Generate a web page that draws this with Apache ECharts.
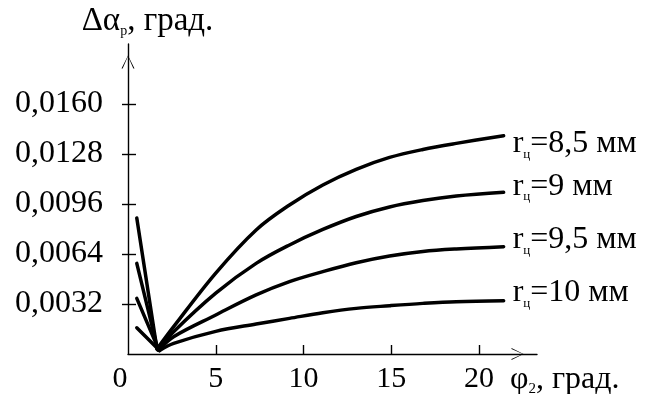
<!DOCTYPE html>
<html><head><meta charset="utf-8">
<script src="https://cdn.jsdelivr.net/npm/echarts@6/dist/echarts.min.js"></script>
<style>html,body{margin:0;padding:0;background:#fff}#c{width:659px;height:394px}</style>
</head><body><div id="c"></div>
<script>
// Data
const curveNames = ['8,5 мм', '9 мм', '9,5 мм', '10 мм'];
const phi85 = [0.5, 1.65, 2.6, 5.0, 7.3, 9.2, 11.1, 13.0, 14.9, 16.8, 18.7, 21.4];
const val85 = [0.0087, 0.00032, 0.00175, 0.00518, 0.00794, 0.00954, 0.01082, 0.01182, 0.01258, 0.01309, 0.01348, 0.01397];
const phi90 = [0.5, 1.7, 2.6, 5.0, 7.3, 9.2, 11.1, 13.0, 14.9, 16.8, 18.7, 21.4];
const val90 = [0.0058, 0.00026, 0.00143, 0.0039, 0.0058, 0.00698, 0.00797, 0.0088, 0.00941, 0.00982, 0.01011, 0.01035];
const phi95 = [0.5, 1.75, 2.6, 5.0, 7.3, 9.2, 11.1, 13.0, 14.9, 16.8, 18.7, 21.4];
const val95 = [0.00356, 0.00026, 0.00111, 0.0025, 0.00378, 0.00463, 0.00527, 0.00584, 0.00627, 0.00656, 0.00672, 0.00687];
const phi100 = [0.5, 1.8, 2.6, 5.0, 7.3, 9.2, 11.1, 13.0, 14.9, 16.8, 18.7, 21.4];
const val100 = [0.00168, 0.00022, 0.00068, 0.00145, 0.00192, 0.00228, 0.00264, 0.00292, 0.00309, 0.00324, 0.00335, 0.00341];
const xTickValues = [5, 10, 15, 20];
const xLabelValues = [0, 5, 10, 15, 20];
const yTickValues = [0.0032, 0.0064, 0.0096, 0.0128, 0.0160];

const FONT = '"Liberation Serif", "Times New Roman", serif';
const zip = (xs, ys) => xs.map((x, i) => [x, ys[i]]);
const curves = [zip(phi85, val85), zip(phi90, val90), zip(phi95, val95), zip(phi100, val100)];
const labelOffsets = [[0, 8], [0, -6], [0, -7], [0, -8]];
const arrowPath = 'path://M50,0 L0,100 L9,100 L50,6 L91,100 L100,100 Z';
const axisLineStyle = { color: '#000', width: 1.4 };
const lineStyle = { color: '#000', width: 3.5, cap: 'round', join: 'round' };

const series = [];
curves.forEach((d, i) => {
  // falling straight branch
  series.push({ type: 'line', data: d.slice(0, 2), showSymbol: false, smooth: false, lineStyle, silent: true });
  // rising smooth branch
  series.push({
    type: 'line', data: d.slice(1), showSymbol: false, smooth: 0.35, lineStyle,
    endLabel: {
      show: true, distance: 9, offset: labelOffsets[i],
      formatter: '{r|r}{s|ц}{r|=' + curveNames[i] + '}',
      rich: {
        r: { fontFamily: FONT, fontSize: 32, color: '#000', lineHeight: 34 },
        s: { fontFamily: FONT, fontSize: 13, color: '#000', verticalAlign: 'bottom', lineHeight: 30 }
      }
    }
  });
});

const chart = echarts.init(document.getElementById('c'));
chart.setOption({
  animation: false,
  backgroundColor: '#fff',
  grid: { left: 128, right: 122, top: 44, bottom: 40, containLabel: false, outerBoundsMode: 'none' },
  xAxis: {
    type: 'value', min: 0, max: 23.3, interval: 5,
    axisLine: { lineStyle: axisLineStyle, symbol: ['none', arrowPath], symbolSize: [12, 39], symbolOffset: [0, -19.5] },
    axisTick: { inside: true, length: 9, customValues: xTickValues, lineStyle: axisLineStyle },
    axisLabel: {
      customValues: xLabelValues, margin: 10, color: '#000', fontFamily: FONT, fontSize: 30,
      formatter: v => v === 0 ? '{z|0}' : String(v),
      rich: { z: { fontFamily: FONT, fontSize: 30, color: '#000', padding: [0, 16, 0, 0] } }
    },
    splitLine: { show: false },
    name: '{a|φ}{s|2}{a|, град.}', nameLocation: 'end', nameGap: -27,
    nameTextStyle: {
      verticalAlign: 'top', padding: [9, 0, 0, 0],
      rich: {
        a: { fontFamily: FONT, fontSize: 32, color: '#000', lineHeight: 34 },
        s: { fontFamily: FONT, fontSize: 15, color: '#000', verticalAlign: 'bottom', lineHeight: 31 }
      }
    }
  },
  yAxis: [{
    type: 'value', min: 0, max: 0.01984, interval: 0.0032,
    axisLine: { lineStyle: axisLineStyle, symbol: ['none', arrowPath], symbolSize: [13, 36], symbolOffset: [0, -18] },
    axisTick: { inside: false, length: 6, customValues: yTickValues, lineStyle: axisLineStyle },
    axisLabel: {
      customValues: yTickValues, margin: 25, color: '#000', fontFamily: FONT, fontSize: 32,
      formatter: v => v.toFixed(4).replace('.', ',')
    },
    splitLine: { show: false },
    name: '{a|Δα}{s|р}{a|, град.}', nameLocation: 'end', nameGap: 6,
    nameTextStyle: {
      verticalAlign: 'bottom', padding: [0, 0, 0, 39],
      rich: {
        a: { fontFamily: FONT, fontSize: 33, color: '#000', lineHeight: 34 },
        s: { fontFamily: FONT, fontSize: 14, color: '#000', verticalAlign: 'bottom', lineHeight: 32 }
      }
    }
  }, {
    type: 'value', min: 0, max: 0.01984, interval: 0.0032, position: 'left', offset: 0,
    axisLine: { show: false },
    axisTick: { show: true, inside: true, length: 8, customValues: yTickValues, lineStyle: axisLineStyle },
    axisLabel: { show: false },
    splitLine: { show: false }
  }],
  series
});
</script></body></html>
